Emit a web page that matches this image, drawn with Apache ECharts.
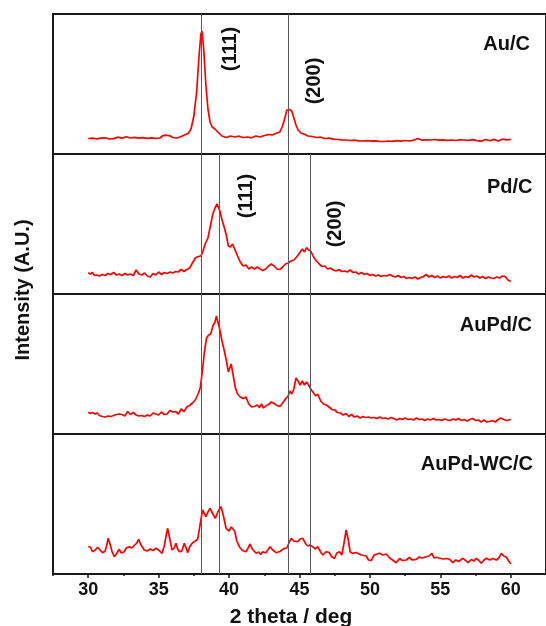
<!DOCTYPE html>
<html>
<head>
<meta charset="utf-8">
<script src="https://cdn.jsdelivr.net/npm/echarts@6/dist/echarts.min.js"></script>
<style>
html,body{margin:0;padding:0;background:#fff;}
#chart{width:546px;height:626px;}
</style>
</head>
<body>
<div id="chart"></div>
<script>
// ---- data (2theta in deg, intensity in arbitrary units per panel) ----
const sampleNames = ['Au/C', 'Pd/C', 'AuPd/C', 'AuPd-WC/C'];
const xTickValues = [30, 35, 40, 45, 50, 55, 60];
const xMinorTickValues = [27.5, 32.5, 37.5, 42.5, 47.5, 52.5, 57.5];
const auLines = [38.0, 44.2];
const pdLines = [39.3, 45.75];
const peakLabels = ['(111)', '(200)'];

const auC = [[30,15.5],[30.3,15.8],[30.6,15.2],[30.9,15.9],[31.2,16.2],[31.5,15.0],[31.8,15.4],[32.1,16.8],[32.4,15.9],[32.7,17.2],[33.0,16.0],[33.3,16.6],[33.6,15.8],[33.9,16.4],[34.2,15.7],[34.5,16.1],[34.8,15.6],[35.1,16.0],[35.3,18.5],[35.5,18.8],[35.8,18.2],[36.0,16.5],[36.3,16.0],[36.6,17.5],[36.9,19.5],[37.1,20.5],[37.3,25],[37.5,38],[37.7,62],[37.85,95],[38.0,120],[38.08,123],[38.2,105],[38.35,70],[38.5,45],[38.65,32],[38.8,27],[39.0,25],[39.2,22],[39.5,18],[39.8,16.5],[40.1,18],[40.4,17],[40.7,17.8],[41.0,16.5],[41.3,17],[41.6,16.2],[41.9,18],[42.2,17],[42.5,18.5],[42.8,19.5],[43.1,19.2],[43.4,21],[43.6,22],[43.8,28],[44.0,38],[44.1,44],[44.3,44.5],[44.45,43],[44.6,36],[44.75,29],[44.9,24],[45.1,21],[45.3,20],[45.6,18],[45.9,17.5],[46.2,16.5],[46.5,16.8],[46.8,15.5],[47.1,15.8],[47.4,14.8],[47.7,14.5],[48.0,14.2],[48.3,14.0],[48.6,13.5],[48.9,13.8],[49.2,13.2],[49.5,13.0],[49.8,13.4],[50.1,12.8],[50.4,13.2],[50.7,12.5],[51.0,12.5],[51.3,13.0],[51.6,12.7],[51.9,13.4],[52.2,12.8],[52.5,13.5],[52.8,13.0],[53.1,13.8],[53.4,15.5],[53.7,13.8],[54.0,14.2],[54.3,14.0],[54.6,14.5],[54.9,13.8],[55.2,14.2],[55.5,13.6],[55.8,14.0],[56.1,13.5],[56.4,14.2],[56.7,14.0],[57.0,13.6],[57.3,14.4],[57.6,13.4],[57.9,12.8],[58.2,14.5],[58.5,13.2],[58.8,14.6],[59.1,13.0],[59.4,14.8],[59.7,14.2],[60.0,14.6]];

const pdC = [[30,21.3],[30.15,20],[30.3,21.5],[30.45,18.5],[30.6,19],[30.8,18],[31.0,19.5],[31.2,18.5],[31.4,20.5],[31.6,19.5],[31.8,21.5],[32.0,19],[32.2,20],[32.4,18.5],[32.6,20.5],[32.8,19],[33.0,20],[33.2,18.5],[33.4,24],[33.6,20],[33.8,19],[34.0,21],[34.2,18],[34.4,17],[34.6,20.5],[34.8,19],[35.0,22],[35.2,19.5],[35.4,21.5],[35.6,20.5],[35.8,22],[36.0,21],[36.2,22.5],[36.4,22],[36.6,24.5],[36.8,22.5],[37.0,24.5],[37.2,26],[37.4,31],[37.6,36],[37.8,37.5],[38.0,38],[38.15,43],[38.3,50],[38.5,56],[38.7,70],[38.85,80],[39.0,86],[39.15,90],[39.25,92],[39.35,83],[39.5,74],[39.65,67],[39.8,59],[39.95,48],[40.1,47],[40.25,50],[40.4,45],[40.6,38],[40.8,32],[41.0,28],[41.2,29],[41.4,25],[41.6,27],[41.8,25],[42.0,27],[42.2,25],[42.4,23.5],[42.6,25],[42.8,28],[43.0,30],[43.2,28],[43.4,25],[43.6,24.5],[43.8,27],[44.0,30],[44.2,31],[44.4,33],[44.6,34],[44.8,37],[45.0,41],[45.2,45],[45.35,42],[45.5,46.5],[45.65,44],[45.8,43],[46.0,37],[46.2,33],[46.4,30],[46.6,27.5],[46.8,28],[47.0,25],[47.2,26],[47.4,24],[47.6,23],[47.8,24.5],[48.0,22.5],[48.2,23],[48.4,22],[48.6,24],[48.8,21.5],[49.0,22],[49.2,20],[49.4,21.5],[49.6,19.5],[49.8,20.5],[50.0,18.5],[50.2,19.5],[50.4,18],[50.6,19],[50.8,17.5],[51.0,18.5],[51.2,18],[51.4,19.5],[51.6,18],[51.8,17],[52.0,18.5],[52.2,16.5],[52.4,17.5],[52.6,15.5],[52.8,16.5],[53.0,15.5],[53.2,17],[53.4,15],[53.6,16.5],[53.8,17.5],[54.0,19.5],[54.2,17],[54.4,18.5],[54.6,16.5],[54.8,18],[55.0,16],[55.2,17.5],[55.4,16.5],[55.6,18],[55.8,16],[56.0,17.5],[56.2,16.5],[56.4,18.5],[56.6,16],[56.8,17.5],[57.0,16.5],[57.2,19],[57.4,17],[57.6,18],[57.8,16],[58.0,17.5],[58.2,15.5],[58.4,17],[58.6,16],[58.8,15.5],[59.0,17],[59.2,16],[59.4,18],[59.6,17.5],[59.8,14],[60.0,12.5]];

const aupdC = [[30.0,21.7],[30.15,20.5],[30.3,21.5],[30.5,20],[30.65,21],[30.8,18.5],[31.0,17.5],[31.2,17],[31.4,18],[31.6,17.5],[31.8,18.5],[32.0,19.5],[32.2,20],[32.4,19.5],[32.6,18],[32.8,22.5],[33.0,19.5],[33.2,21.5],[33.4,19],[33.6,18],[33.8,18.5],[34.0,17.5],[34.2,19],[34.4,18],[34.6,21],[34.8,20],[35.0,19],[35.2,22],[35.4,19.5],[35.6,20],[35.8,23.5],[36.0,22],[36.2,22.5],[36.4,20],[36.6,25],[36.8,22.5],[37.0,27],[37.2,28.5],[37.4,31],[37.6,34],[37.8,40],[37.95,46],[38.1,62],[38.25,82],[38.4,96],[38.55,99],[38.7,100],[38.85,108],[39.0,112],[39.1,118],[39.2,117],[39.35,104],[39.5,93],[39.65,84],[39.8,74],[39.95,62],[40.05,66],[40.15,70],[40.3,58],[40.45,46],[40.6,40],[40.8,37],[41.0,35.5],[41.2,37],[41.4,30],[41.6,27],[41.8,27.5],[42.0,29],[42.15,26.5],[42.3,30],[42.45,26],[42.6,28],[42.8,29.5],[43.0,32],[43.2,30.5],[43.4,28.5],[43.6,27.5],[43.8,31],[44.0,35],[44.2,38],[44.3,43],[44.45,40],[44.6,45],[44.75,56],[44.9,53],[45.05,49],[45.2,53],[45.35,49],[45.5,52],[45.65,49],[45.8,45],[46.0,41],[46.15,38],[46.3,40],[46.5,33],[46.7,30],[46.9,29],[47.1,27],[47.3,24.5],[47.5,24],[47.7,21.5],[47.9,21],[48.1,19],[48.3,20.5],[48.5,17.5],[48.7,19.5],[48.9,17],[49.1,18],[49.3,16],[49.5,17.5],[49.7,16.5],[49.9,17],[50.1,16],[50.3,16.5],[50.5,15.5],[50.7,17],[50.9,15.5],[51.1,16],[51.3,15],[51.5,16.5],[51.7,15.5],[51.9,14],[52.1,15.5],[52.3,14.5],[52.5,16],[52.7,14.5],[52.9,15],[53.1,14],[53.3,16],[53.5,14.5],[53.7,15],[53.9,13.5],[54.1,15],[54.3,14],[54.5,15.5],[54.7,14],[54.9,14.5],[55.1,13.5],[55.3,15],[55.5,14],[55.7,13.5],[55.9,15],[56.1,14],[56.3,15.5],[56.5,13.5],[56.7,14.5],[56.9,13],[57.1,14.5],[57.3,15.5],[57.5,13.5],[57.7,14],[57.9,12],[58.1,14],[58.3,12],[58.5,12.5],[58.7,13.5],[58.9,12],[59.1,14.5],[59.3,16],[59.5,14.5],[59.7,13.5],[59.85,14],[60.0,14.5]];

const aupdWcC = [[30,27.3],[30.15,27],[30.31,22.3],[30.5,24],[30.66,26.7],[30.85,24],[31.02,21.3],[31.2,23],[31.3,28],[31.42,35.7],[31.55,30],[31.7,22],[31.85,17.3],[32.0,20],[32.2,24.7],[32.35,21],[32.56,22.3],[32.7,26],[32.91,27.3],[33.1,26],[33.3,29],[33.45,31],[33.58,34.7],[33.75,29],[33.98,24],[34.2,23],[34.4,25],[34.6,23.5],[34.81,25.7],[35.0,24],[35.24,20.7],[35.4,28],[35.55,40],[35.64,45.7],[35.75,38],[35.95,24],[36.1,26],[36.23,30.7],[36.35,25],[36.47,22.3],[36.65,23],[36.82,30.7],[36.95,26],[37.06,21.3],[37.2,27],[37.41,31.3],[37.6,33],[37.77,34.7],[37.95,50],[38.12,64],[38.25,62],[38.36,57.3],[38.5,62],[38.65,65.7],[38.85,60],[39.02,55.7],[39.2,62],[39.43,67.3],[39.6,58],[39.79,45.7],[40.0,43],[40.15,47],[40.26,49],[40.4,43],[40.55,33],[40.73,27.3],[40.95,23.5],[41.21,22.3],[41.35,26],[41.49,30],[41.65,25],[41.92,20.7],[42.1,22],[42.25,19.5],[42.39,22.3],[42.6,21],[42.91,27.3],[43.1,24],[43.34,21.3],[43.6,22.5],[43.93,25.7],[44.1,26],[44.25,31],[44.41,35.7],[44.6,33],[44.88,32.3],[45.05,35],[45.23,35.7],[45.45,30],[45.6,28],[45.75,29],[45.94,27.3],[46.1,25],[46.3,27.3],[46.5,22],[46.65,19],[46.9,22.3],[47.1,21.5],[47.3,17],[47.48,15.7],[47.65,21],[47.84,22.3],[48.0,19],[48.15,30],[48.31,44],[48.45,35],[48.6,22],[48.75,20.7],[49.0,21.5],[49.14,20.7],[49.4,19],[49.74,18],[49.9,14],[50.09,13.3],[50.3,19],[50.5,20],[50.68,20.7],[50.9,19],[51.16,20],[51.4,16],[51.6,14],[51.87,11.3],[52.1,15.5],[52.3,13.5],[52.58,14],[52.8,16.5],[53.0,14],[53.29,14.7],[53.5,17],[53.7,16],[54.0,17.3],[54.2,18],[54.4,20.7],[54.55,16],[54.71,16.7],[54.9,16],[55.2,15],[55.45,15.5],[55.66,14.7],[55.89,11.3],[56.1,14],[56.3,12.5],[56.6,15.7],[56.8,13.5],[56.96,11.3],[57.2,14.5],[57.4,13],[57.55,15.7],[57.7,14],[57.91,10.7],[58.1,14],[58.27,15.7],[58.5,14],[58.75,15.5],[58.98,14],[59.15,16],[59.33,20.7],[59.5,18],[59.69,16.7],[59.85,13],[60.0,10]];

const panelData = [auC, pdC, aupdC, aupdWcC];

// ---- chart ----
const FONT = '"Liberation Sans", Arial, Helvetica, sans-serif';
const TXT = '#111';
const panelTops = [14, 154, 294, 434];
const PANEL_H = 140;

const grids = panelTops.map(t => ({
  left: 53, top: t, width: 494, height: PANEL_H,
  show: true, borderColor: '#1a1a1a', borderWidth: 2, backgroundColor: 'transparent'
}));

const xAxes = [];
const yAxes = [];
for (let i = 0; i < 4; i++) {
  const last = i === 3;
  xAxes.push({
    type: 'value', gridIndex: i, min: 27.5, max: 62.5,
    splitLine: { show: false },
    axisLine: { show: last, lineStyle: { color: '#1a1a1a', width: 2 } },
    axisTick: last ? { show: true, customValues: xTickValues, length: 4, lineStyle: { color: '#1a1a1a', width: 1.5 } } : { show: false },
    axisLabel: last ? { show: true, customValues: xTickValues, margin: 7, fontSize: 18, fontWeight: 'bold', color: TXT, fontFamily: FONT } : { show: false }
  });
  yAxes.push({
    type: 'value', gridIndex: i, min: 0, max: PANEL_H,
    show: false, splitLine: { show: false }
  });
}
// minor ticks on the bottom axis
xAxes.push({
  type: 'value', gridIndex: 3, min: 27.5, max: 62.5, position: 'bottom',
  splitLine: { show: false },
  axisLine: { show: false },
  axisTick: { show: true, customValues: xMinorTickValues, length: 2, lineStyle: { color: '#1a1a1a', width: 1.5 } },
  axisLabel: { show: false }
});

function refLines(i) {
  const vals = i === 0 ? auLines : auLines.concat(pdLines);
  return {
    silent: true, symbol: ['none', 'none'], animation: false,
    label: { show: false },
    lineStyle: { color: '#5a5a5a', width: 1, type: 'solid' },
    data: vals.map(v => ({ xAxis: v }))
  };
}

const series = panelData.map((d, i) => ({
  type: 'line', xAxisIndex: i, yAxisIndex: i, data: d,
  showSymbol: false, symbol: 'none', smooth: false,
  lineStyle: { color: '#ff0000', width: 1.7 },
  markLine: refLines(i),
  z: 3
}));

function txt(x, y, text, opts) {
  return Object.assign({
    type: 'text', x: x, y: y, silent: true, z: 10,
    style: Object.assign({
      text: text, fill: TXT, font: 'bold 20px ' + FONT,
      textAlign: 'center', textVerticalAlign: 'middle'
    }, (opts && opts.style) || {})
  }, (opts && opts.el) || {});
}

const nameRight = [530, 532.5, 532, 533];
const nameY = [44, 187, 325, 464];
const graphics = [];
sampleNames.forEach((n, i) => {
  graphics.push(txt(nameRight[i], nameY[i], n, { style: { textAlign: 'right' } }));
});
// peak labels (rotated)
const peakPos = [[230, 49], [314, 81], [246.5, 196], [335, 224]];
peakPos.forEach((p, k) => {
  graphics.push(txt(p[0], p[1], peakLabels[k % 2], { el: { rotation: Math.PI / 2 } }));
});
// axis titles
graphics.push(txt(23, 290, 'Intensity (A.U.)', { el: { rotation: Math.PI / 2 } }));
graphics.push(txt(291, 617, '2 theta / deg', { style: { font: 'bold 21px ' + FONT } }));

const chart = echarts.init(document.getElementById('chart'), null, { renderer: 'canvas' });
chart.setOption({
  animation: false,
  backgroundColor: '#ffffff',
  grid: grids,
  xAxis: xAxes,
  yAxis: yAxes,
  series: series,
  graphic: graphics
});
</script>
</body>
</html>
